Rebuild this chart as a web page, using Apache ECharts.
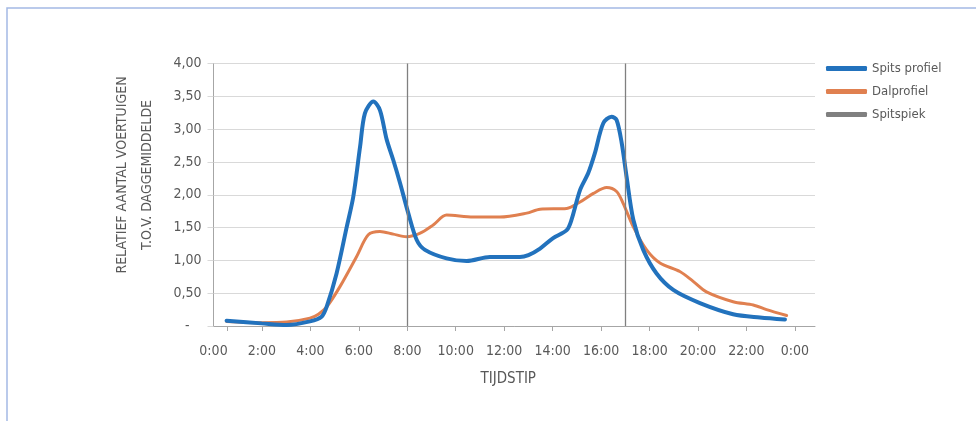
<!DOCTYPE html>
<html>
<head>
<meta charset="utf-8">
<script src="https://cdn.jsdelivr.net/npm/echarts@6/dist/echarts.min.js"></script>
<style>
    html, body { margin: 0; padding: 0; background: #fff; }
    #chart { width: 976px; height: 421px; }
</style>
</head>
<body>
<div id="chart"></div>
<script>
    // tijdstippen (uren) en relatieve waarden
    var spitsUren = [0.54, 1.99, 3.02, 3.98, 4.46, 4.67, 5.08, 5.50, 5.77, 6.05, 6.25, 6.60, 6.87, 7.15, 7.42, 7.70, 8.04, 8.39, 8.73, 9.62, 10.45, 11.41, 12.65, 13.0, 13.48, 14.02, 14.58, 14.78, 15.13, 15.47, 15.74, 16.09, 16.43, 16.64, 16.85, 17.05, 17.33, 17.74, 18.29, 18.98, 20.08, 21.45, 22.56, 23.59];
    var spitsWaarden = [0.08, 0.04, 0.015, 0.07, 0.14, 0.29, 0.80, 1.51, 1.97, 2.73, 3.24, 3.42, 3.29, 2.84, 2.53, 2.18, 1.72, 1.31, 1.16, 1.03, 0.99, 1.05, 1.05, 1.08, 1.18, 1.34, 1.46, 1.62, 2.07, 2.33, 2.63, 3.09, 3.19, 3.14, 2.79, 2.28, 1.62, 1.16, 0.80, 0.55, 0.35, 0.18, 0.13, 0.10];

    var dalUren = [0.54, 1.99, 3.02, 3.98, 4.33, 4.67, 5.22, 5.91, 6.39, 6.87, 7.42, 7.97, 8.51, 9.07, 9.62, 10.72, 11.82, 12.93, 13.48, 14.58, 15.13, 15.68, 16.23, 16.64, 16.91, 17.33, 17.88, 18.43, 19.25, 19.80, 20.35, 21.45, 22.28, 22.83, 23.66];
    var dalWaarden = [0.07, 0.05, 0.06, 0.12, 0.18, 0.29, 0.60, 1.06, 1.39, 1.44, 1.40, 1.36, 1.41, 1.54, 1.69, 1.66, 1.66, 1.72, 1.78, 1.79, 1.89, 2.02, 2.11, 2.05, 1.87, 1.51, 1.16, 0.96, 0.83, 0.68, 0.52, 0.37, 0.32, 0.25, 0.16];

    var spitspiekUren = [8, 17];
    var tijdLabels = [0, 2, 4, 6, 8, 10, 12, 14, 16, 18, 20, 22, 24];
    var tijdTicks = [0.55, 2, 4, 6, 8, 10, 12, 14, 16, 18, 20, 22, 24];

    var font = "'Liberation Sans Narrow', 'DejaVu Sans Condensed', sans-serif";
    var grijs = '#595959';

    function paren(uren, waarden) {
        var res = [];
        for (var i = 0; i < uren.length; i++) {
            res.push([uren[i], waarden[i]]);
        }
        return res;
    }

    var chart = echarts.init(document.getElementById('chart'));
    var option = {
        animation: false,
        grid: {
            left: 213.5,
            right: 161,
            top: 63.5,
            bottom: 95
        },
        legend: {
            orient: 'vertical',
            left: 821,
            top: 57,
            itemWidth: 41,
            itemHeight: 5,
            itemGap: 10,
            icon: 'roundRect',
            textStyle: {
                fontFamily: font,
                fontSize: 13,
                color: grijs
            },
            data: ['Spits profiel', 'Dalprofiel', 'Spitspiek']
        },
        xAxis: {
            type: 'value',
            min: 0,
            max: 24.83,
            name: 'TIJDSTIP',
            nameLocation: 'middle',
            nameGap: 46,
            nameTextStyle: {
                fontFamily: font,
                fontSize: 15,
                color: grijs,
                padding: [0, 12, 0, 0]
            },
            splitLine: { show: false },
            axisLine: { lineStyle: { color: '#a6a6a6', width: 1 } },
            axisTick: {
                length: 5,
                customValues: tijdTicks,
                lineStyle: { color: '#a6a6a6' }
            },
            axisLabel: {
                customValues: tijdLabels,
                margin: 18,
                fontFamily: font,
                fontSize: 14,
                color: grijs,
                formatter: function (v) {
                    return (Math.round(v) % 24) + ':00';
                }
            }
        },
        yAxis: {
            type: 'value',
            min: 0,
            max: 4,
            interval: 0.5,
            axisLine: { show: true, lineStyle: { color: '#a6a6a6', width: 1 } },
            axisTick: { show: true, length: 6, lineStyle: { color: '#d9d9d9' } },
            splitLine: { lineStyle: { color: '#d9d9d9', width: 1.2 } },
            axisLabel: {
                margin: 12,
                fontFamily: font,
                fontSize: 14,
                color: grijs,
                formatter: function (v) {
                    if (v === 0) return '-   ';
                    return v.toFixed(2).replace('.', ',');
                }
            }
        },
        graphic: [
            {
                // lichtblauwe kader
                type: 'rect',
                shape: { x: 7, y: 8, width: 1000, height: 500 },
                style: { fill: 'none', stroke: '#a4b9e5', lineWidth: 1.5 },
                silent: true
            },
            {
                type: 'text',
                x: 122,
                y: 175,
                rotation: Math.PI / 2,
                style: {
                    text: 'RELATIEF AANTAL VOERTUIGEN',
                    fontFamily: font,
                    fontSize: 14,
                    fill: grijs,
                    align: 'center',
                    verticalAlign: 'middle'
                }
            },
            {
                type: 'text',
                x: 147,
                y: 175,
                rotation: Math.PI / 2,
                style: {
                    text: 'T.O.V. DAGGEMIDDELDE',
                    fontFamily: font,
                    fontSize: 14,
                    fill: grijs,
                    align: 'center',
                    verticalAlign: 'middle'
                }
            }
        ],
        series: [
            {
                name: 'Spits profiel',
                type: 'line',
                smooth: 0.3,
                showSymbol: false,
                color: '#2272bd',
                lineStyle: { width: 4, color: '#2272bd', cap: 'round' },
                data: paren(spitsUren, spitsWaarden),
                z: 3
            },
            {
                name: 'Dalprofiel',
                type: 'line',
                smooth: 0.3,
                showSymbol: false,
                color: '#e08050',
                lineStyle: { width: 3, color: '#e08050', cap: 'round' },
                data: paren(dalUren, dalWaarden),
                z: 2
            },
            {
                name: 'Spitspiek',
                type: 'line',
                color: '#808080',
                data: [],
                markLine: {
                    silent: true,
                    symbol: 'none',
                    label: { show: false },
                    lineStyle: { color: '#808080', width: 1.3, type: 'solid' },
                    data: spitspiekUren.map(function (u) { return { xAxis: u }; })
                }
            }
        ]
    };
    chart.setOption(option);
</script>
</body>
</html>
